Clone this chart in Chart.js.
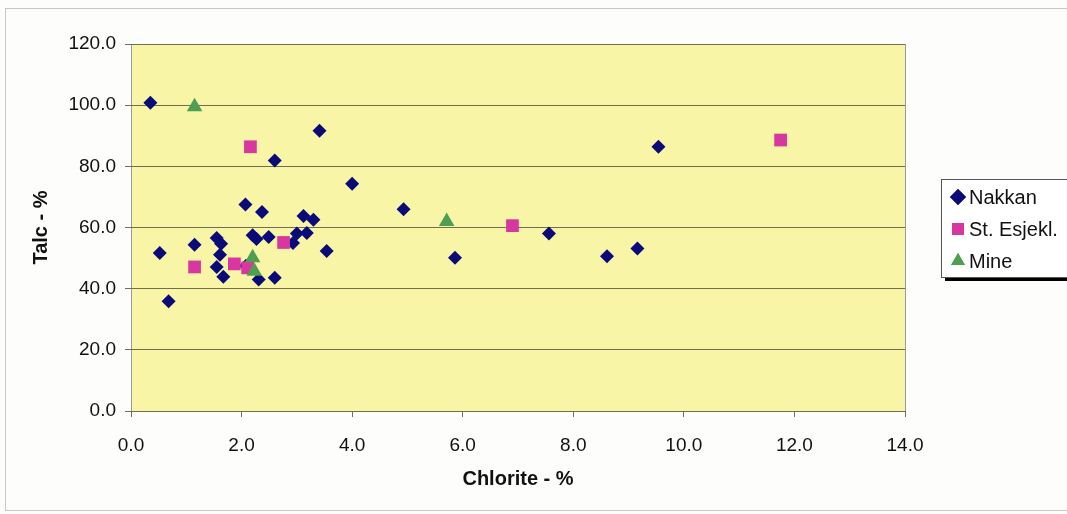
<!DOCTYPE html>
<html>
<head>
<meta charset="utf-8">
<script src="https://cdn.jsdelivr.net/npm/chart.js"></script>
<style>
  html, body { margin: 0; padding: 0; background: #fdfdfb; }
  #wrap { width: 1067px; height: 514px; }
</style>
</head>
<body>
<div id="wrap"><canvas id="talcChart" width="1067" height="514"></canvas></div>
<script>
// values
const nakkanX = [0.35, 3.41, 2.60, 4.00, 2.07, 2.37, 3.12, 3.30, 3.00, 3.18, 2.93, 2.20, 2.27, 2.49, 3.54,
                 1.15, 0.52, 1.55, 1.63, 1.61, 1.55, 1.67, 2.31, 2.60, 0.68, 4.93, 5.86, 7.56, 8.61, 9.16, 9.54, 2.08];
const nakkanY = [100.8, 91.6, 81.9, 74.3, 67.5, 65.1, 63.8, 62.5, 58.0, 58.2, 54.9, 57.5, 56.2, 56.9, 52.3,
                 54.4, 51.7, 56.6, 54.7, 51.1, 47.1, 43.9, 43.0, 43.6, 35.9, 66.0, 50.1, 58.0, 50.6, 53.1, 86.4, 47.5];
const esjeklX = [1.15, 1.87, 2.11, 2.16, 2.76, 6.90, 11.75];
const esjeklY = [47.1, 48.1, 46.8, 86.4, 55.1, 60.6, 88.6];
const mineX = [1.15, 2.20, 2.23, 5.71];
const mineY = [99.5, 50.1, 45.7, 62.0];

const xTicks = [0, 2, 4, 6, 8, 10, 12, 14];
const yTicks = [0, 20, 40, 60, 80, 100, 120];

const FONT = '"Liberation Sans", Arial, sans-serif';

function pts(xs, ys) {
    return xs.map((x, i) => ({ x: x, y: ys[i] }));
}

// yellow plot area + frame around the whole chart
const backdrop = {
    id: 'backdrop',
    beforeDraw(chart) {
        const { ctx, chartArea: a } = chart;
        ctx.save();
        ctx.strokeStyle = '#c8c8c8';
        ctx.lineWidth = 1;
        ctx.strokeRect(5.5, 8.5, 1070, 502);
        ctx.fillStyle = '#f8f6a6';
        ctx.fillRect(a.left, a.top, a.right - a.left, a.bottom - a.top);
        ctx.strokeStyle = '#9a9a9a';
        ctx.strokeRect(a.left + 0.5, a.top + 0.5, a.right - a.left, a.bottom - a.top);
        ctx.restore();
    }
};

// legend box with shadow, drawn from the datasets
const boxLegend = {
    id: 'boxLegend',
    afterDraw(chart) {
        const { ctx } = chart;
        const x = 941, y = 179, w = 140, h = 98;
        const sizes = { rectRot: 8, rect: 8.5, triangle: 8 };
        ctx.save();
        ctx.fillStyle = '#000';
        ctx.fillRect(x + 4, y + 4, w, h);
        ctx.fillStyle = '#fff';
        ctx.fillRect(x, y, w, h);
        ctx.strokeStyle = '#555';
        ctx.lineWidth = 1;
        ctx.strokeRect(x + 0.5, y + 0.5, w, h);
        ctx.font = '20px ' + FONT;
        ctx.textBaseline = 'middle';
        chart.data.datasets.forEach((ds, i) => {
            const cy = y + 18 + i * 32;
            ctx.fillStyle = ds.backgroundColor;
            Chart.helpers.drawPoint(ctx, {
                pointStyle: ds.pointStyle,
                radius: sizes[ds.pointStyle],
                borderWidth: 0
            }, 958, cy);
            ctx.fill();
            ctx.fillStyle = '#111';
            ctx.fillText(ds.label, 969, cy + 1);
        });
        ctx.restore();
    }
};

new Chart(document.getElementById('talcChart'), {
    type: 'scatter',
    data: {
        datasets: [{
            label: 'Nakkan',
            data: pts(nakkanX, nakkanY),
            pointStyle: 'rectRot',
            pointRadius: 7,
            backgroundColor: '#0a0a78',
            borderColor: '#0a0a78',
            borderWidth: 0,
            order: 2
        }, {
            label: 'St. Esjekl.',
            data: pts(esjeklX, esjeklY),
            pointStyle: 'rect',
            pointRadius: 9,
            backgroundColor: '#d8379f',
            borderColor: '#d8379f',
            borderWidth: 0,
            order: 1
        }, {
            label: 'Mine',
            data: pts(mineX, mineY),
            pointStyle: 'triangle',
            pointRadius: 9,
            backgroundColor: '#4f9f52',
            borderColor: '#4f9f52',
            borderWidth: 0,
            order: 0
        }]
    },
    options: {
        responsive: false,
        animation: false,
        layout: { padding: { left: 0, right: 162, top: 44, bottom: 0 } },
        plugins: {
            legend: { display: false },
            tooltip: { enabled: false }
        },
        scales: {
            x: {
                type: 'linear',
                min: 0,
                max: 14,
                afterFit: s => { s.height = 103; },
                afterBuildTicks: s => { s.ticks = xTicks.map(v => ({ value: v })); },
                border: { display: false },
                grid: { drawOnChartArea: false, drawTicks: true, tickLength: 6, color: '#6e6e50' },
                ticks: {
                    padding: 17,
                    color: '#111',
                    font: { family: FONT, size: 19 },
                    callback: v => v.toFixed(1)
                },
                title: {
                    display: true,
                    text: 'Chlorite - %',
                    color: '#111',
                    font: { family: FONT, size: 20, weight: 'bold' },
                    padding: { top: 0, bottom: 23 }
                }
            },
            y: {
                type: 'linear',
                min: 0,
                max: 120,
                afterFit: s => { s.width = 131; },
                afterBuildTicks: s => { s.ticks = yTicks.map(v => ({ value: v })); },
                border: { display: false },
                grid: { drawTicks: true, tickLength: 6, color: '#6e6e50', lineWidth: 1 },
                ticks: {
                    padding: 9,
                    color: '#111',
                    font: { family: FONT, size: 19 },
                    callback: v => v.toFixed(1)
                },
                title: {
                    display: true,
                    text: 'Talc - %',
                    color: '#111',
                    font: { family: FONT, size: 20, weight: 'bold' },
                    padding: { top: 29, bottom: 0 }
                }
            }
        }
    },
    plugins: [backdrop, boxLegend]
});
</script>
</body>
</html>
